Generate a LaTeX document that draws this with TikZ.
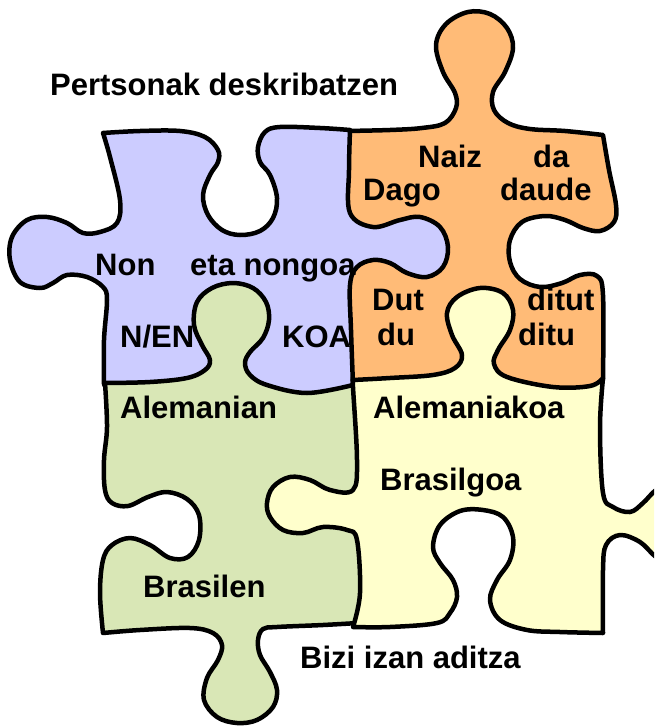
\documentclass[tikz,border=0pt]{standalone}
\usepackage{fontspec}
\setmainfont{Liberation Sans}
\definecolor{pPurple}{HTML}{CCCCFF}
\definecolor{pOrange}{HTML}{FFBB77}
\definecolor{pGreen}{HTML}{D9E7B6}
\definecolor{pYellow}{HTML}{FFFFCC}
\begin{document}
\begin{tikzpicture}[x=1pt,y=-1pt,
  piece/.style={line width=4.5pt, line join=round, draw=black},
  lbl/.style={font=\fontsize{31}{36}\selectfont\bfseries, inner sep=0pt, anchor=base west}]
\useasboundingbox (0,0) rectangle (654,728);
\clip (0,0) rectangle (654,728);
% orange piece
\filldraw[piece, fill=pOrange] (346,131)
 -- plot[smooth,tension=0.6] coordinates {(346,131) (390,130) (422,128) (445,123) (456,108) (455,93) (443,72) (436,45) (446,24) (468,12) (490,14) (507,28) (513,48) (505,72) (493,92) (494,110) (508,123) (530,129) (565,131) (603,135)}
 -- plot[smooth,tension=0.6] coordinates {(603,135) (609,170) (616,205) (614,222) (600,231) (583,228) (565,220) (545,216) (522,222) (510,240) (510,262) (520,279) (540,287) (562,283) (580,275) (597,276) (603,295) (603,377)}
 -- (603,379) -- (590,392) -- (345,392) -- (340,380) -- (340,140) -- cycle;
% purple piece
\filldraw[piece, fill=pPurple] (103,133)
 -- plot[smooth,tension=0.6] coordinates {(103,133) (140,131) (180,131) (205,137) (218,150) (218,162) (210,175) (203,195) (208,215) (222,230) (240,235) (260,231) (273,218) (277,198) (270,175) (260,162) (258,147) (265,132) (280,127) (320,128) (350,130)}
 -- plot[smooth,tension=0.6] coordinates {(350,130) (349,170) (350,213) (373,227) (400,220) (420,217) (440,227) (448,247) (443,267) (427,277) (407,273) (390,263) (373,260) (357,267) (350,285) (351,330) (353,385)}
 -- (355,400) -- (112,400) -- (104,384)
 -- plot[smooth,tension=0.6] coordinates {(104,384) (104,340) (107,300) (103,287) (87,277) (67,275) (53,283) (40,288) (20,282) (10,260) (12,237) (27,220) (47,217) (67,223) (83,233) (100,232) (117,223) (120,200) (110,157) (103,133)}
 -- cycle;
% green piece
\filldraw[piece, fill=pGreen] (105,383)
 -- plot[smooth,tension=0.6] coordinates {(105,383) (150,382) (187,378) (205,370) (210,360) (202,345) (194,325) (197,302) (212,288) (233,283) (253,288) (266,302) (269,320) (263,338) (250,352) (245,363) (250,375) (267,385) (307,393) (353,385)}
 -- (362,390) -- (362,624) -- (358,623)
 -- plot[smooth,tension=0.6] coordinates {(358,623) (323,625) (277,627) (263,629) (258,640) (260,655) (270,672) (277,690) (273,707) (257,720) (237,723) (217,717) (204,700) (207,678) (218,660) (222,645) (213,633) (190,628) (140,630) (103,633)}
 -- plot[smooth,tension=0.6] coordinates {(103,633) (100,593) (103,560) (112,545) (130,538) (150,545) (170,558) (188,557) (199,540) (199,515) (187,499) (167,492) (148,497) (128,506) (112,503) (105,490) (104,460) (107,427) (105,383)}
 -- cycle;
% yellow piece
\filldraw[piece, fill=pYellow] (353,380)
 -- plot[smooth,tension=0.6] coordinates {(353,380) (390,378) (433,375) (455,368) (462,355) (452,335) (447,313) (457,297) (480,288) (503,293) (513,310) (510,330) (498,350) (494,364) (507,377) (553,387) (590,386) (603,378)}
 -- plot[smooth,tension=0.6] coordinates {(603,378) (600,427) (603,493) (613,507) (630,512) (643,503) (656,490) (672,482) (690,488) (700,505) (700,540) (690,558) (672,565) (656,557) (640,542) (620,535) (606,545) (603,570) (603,633)}
 -- plot[smooth,tension=0.6] coordinates {(603,633) (560,632) (527,630) (500,620) (490,600) (497,580) (510,560) (513,537) (503,517) (483,510) (460,511) (440,525) (433,547) (440,563) (453,580) (457,597) (450,613) (437,623) (390,627) (353,627)}
 -- plot[smooth,tension=0.6] coordinates {(353,627) (360,593) (357,540) (347,530) (323,527) (303,533) (283,530) (270,517) (267,503) (273,487) (290,477) (310,480) (330,490) (353,490) (357,460) (353,387) (353,380)}
 -- cycle;
% labels
\node[lbl] (title) at (50,95) {Pertsonak deskribatzen};
\node[lbl] (naiz) at (418,167) {Naiz};
\node[lbl] (da) at (533,167) {da};
\node[lbl] (dago) at (363,200) {Dago};
\node[lbl] (daude) at (500,200) {daude};
\node[lbl] (dut) at (372,310) {Dut};
\node[lbl] (ditut) at (527,310) {ditut};
\node[lbl] (du) at (377,345) {du};
\node[lbl] (ditu) at (518,345) {ditu};
\node[lbl] (non) at (95,275) {Non};
\node[lbl] (eta) at (190,275) {eta nongoa};
\node[lbl] (nen) at (120,347) {N/EN};
\node[lbl] (koa) at (282,347) {KOA};
\node[lbl] (alemanian) at (120,418) {Alemanian};
\node[lbl] (brasilen) at (143,597) {Brasilen};
\node[lbl] (alemaniakoa) at (373,418) {Alemaniakoa};
\node[lbl] (brasilgoa) at (380,490) {Brasilgoa};
\node[lbl] (bizi) at (300,668) {Bizi izan aditza};
\end{tikzpicture}
\end{document}
